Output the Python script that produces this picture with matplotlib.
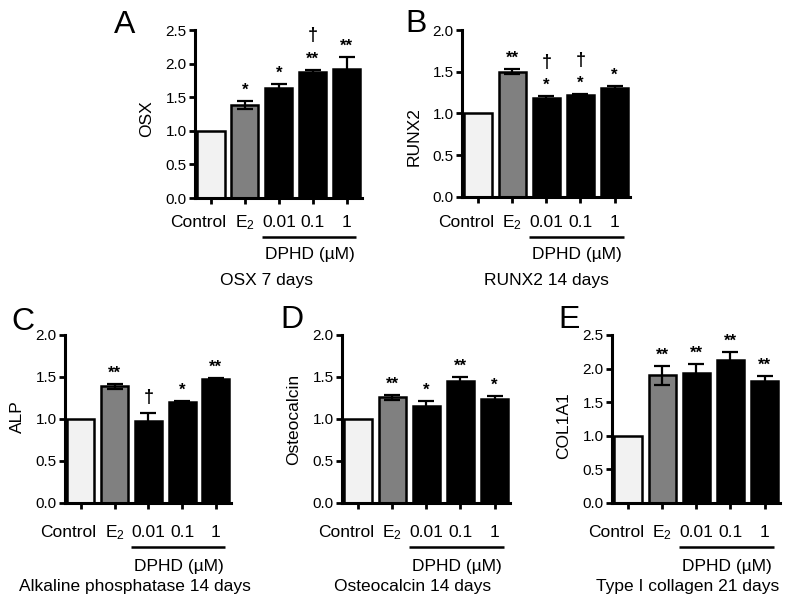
import numpy as np
import matplotlib
matplotlib.use("Agg")
import matplotlib.pyplot as plt
from matplotlib.transforms import blended_transform_factory

plt.rcParams['font.family'] = ['Liberation Sans', 'DejaVu Sans']
plt.rcParams['mathtext.default'] = 'regular'

groups = ['Control', 'E$_2$', '0.01', '0.1', '1']
bar_colors = ['#f2f2f2', '#808080', 'black', 'black', 'black']

# A - OSX 7 days
osx_mean = [1.0, 1.38, 1.64, 1.87, 1.92]
osx_err = [0, 0.06, 0.05, 0.04, 0.18]
osx_stars = ['', '*', '*', '**', '**']
osx_dagger = [False, False, False, True, False]

# B - RUNX2 14 days
runx2_mean = [1.0, 1.50, 1.18, 1.22, 1.30]
runx2_err = [0, 0.03, 0.03, 0.01, 0.03]
runx2_stars = ['', '**', '*', '*', '*']
runx2_dagger = [False, False, True, True, False]

# C - Alkaline phosphatase 14 days
alp_mean = [1.0, 1.39, 0.98, 1.20, 1.48]
alp_err = [0, 0.03, 0.09, 0.01, 0.01]
alp_stars = ['', '**', '', '*', '**']
alp_dagger = [False, False, True, False, False]

# D - Osteocalcin 14 days
ocn_mean = [1.0, 1.26, 1.16, 1.45, 1.24]
ocn_err = [0, 0.03, 0.05, 0.05, 0.03]
ocn_stars = ['', '**', '*', '**', '*']
ocn_dagger = [False, False, False, False, False]

# E - Type I collagen 21 days
col_mean = [1.0, 1.90, 1.94, 2.13, 1.81]
col_err = [0, 0.14, 0.13, 0.12, 0.08]
col_stars = ['', '**', '**', '**', '**']
col_dagger = [False, False, False, False, False]

W, H = 800, 605
fig = plt.figure(figsize=(W / 100, H / 100), dpi=100)


def px_axes(left, right, top, bottom):
    return fig.add_axes([left / W, 1 - bottom / H, (right - left) / W, (bottom - top) / H])


# letter, ylabel, caption, data, ymax, (l, r, t, b), letter xy, ylabel y, caption x, text rows
panels = [
    ('A', 'OSX', 'OSX 7 days', (osx_mean, osx_err, osx_stars, osx_dagger), 2.5,
     (195, 362, 30, 198), (125, 33), 119, 1.65, (227, 237, 255, 280)),
    ('B', 'RUNX2', 'RUNX2 14 days', (runx2_mean, runx2_err, runx2_stars, runx2_dagger), 2.0,
     (462, 630, 30, 197), (416, 32), 137, 2.0, (227, 237, 255, 280)),
    ('C', 'ALP', 'Alkaline phosphatase 14 days', (alp_mean, alp_err, alp_stars, alp_dagger), 2.0,
     (65, 231, 335, 503), (23, 330), 417, 1.6, (537, 547, 566, 587)),
    ('D', 'Osteocalcin', 'Osteocalcin 14 days', (ocn_mean, ocn_err, ocn_stars, ocn_dagger), 2.0,
     (342, 510, 335, 503), (292, 328), 419, 1.6, (537, 547, 566, 587)),
    ('E', 'COL1A1', 'Type I collagen 21 days', (col_mean, col_err, col_stars, col_dagger), 2.5,
     (612, 780, 335, 503), (569, 328), 426, 1.74, (537, 547, 566, 587)),
]

for letter, ylab, caption, data, ymax, box, lxy, ylab_y, cap_x, rows in panels:
    mean, err, stars, dagger = data
    ax = px_axes(*box)
    x = np.arange(len(groups))
    ax.bar(x, mean, width=0.8, color=bar_colors, edgecolor='black', linewidth=1.8, zorder=2)
    ax.errorbar(x[1:], mean[1:], yerr=err[1:], fmt='none', ecolor='black',
                elinewidth=1.6, capsize=5.5, capthick=1.6, zorder=3)
    for i in x:
        top = mean[i] + err[i]
        if stars[i]:
            ax.annotate(stars[i], xy=(i, top), xytext=(0, 4.5), textcoords='offset points',
                        ha='center', va='baseline', fontsize=12, fontweight='bold')
        if dagger[i]:
            off = 21 if stars[i] else 8
            ax.annotate('\u2020', xy=(i, top), xytext=(0, off), textcoords='offset points',
                        ha='center', va='baseline', fontsize=13, fontweight='bold')

    ax.set_xlim(-0.47, 4.45)
    ax.set_ylim(0, ymax)
    ax.set_yticks(np.arange(0, ymax + 0.01, 0.5))
    ax.set_yticklabels(['%.1f' % v for v in np.arange(0, ymax + 0.01, 0.5)])
    ax.set_xticks(x)
    ax.set_xticklabels([])
    for s in ['top', 'right']:
        ax.spines[s].set_visible(False)
    for s in ['left', 'bottom']:
        ax.spines[s].set_linewidth(2.2)
    ax.tick_params(axis='both', length=4, width=2, direction='out')
    ax.tick_params(axis='y', labelsize=11, pad=2)

    # y label
    l, r, t, b = box
    fig.text((l - 48) / W, 1 - ylab_y / H, ylab, rotation=90, ha='center', va='center', fontsize=12.5)

    # panel letter
    fig.text(lxy[0] / W, 1 - lxy[1] / H, letter, ha='center', va='baseline', fontsize=23)

    # group labels, DPHD bracket and caption
    tr = blended_transform_factory(ax.transData, fig.transFigure)
    lab_y, line_y, dphd_y, cap_y = rows
    for i, g in enumerate(groups):
        if i == 0:
            ax.text(0.46, 1 - lab_y / H, g, transform=tr, ha='right', va='baseline',
                    fontsize=12.5, clip_on=False)
        else:
            ax.text(i, 1 - lab_y / H, g, transform=tr, ha='center', va='baseline',
                    fontsize=12.5, clip_on=False)
    ax.plot([1.5, 4.27], [1 - line_y / H] * 2, transform=tr, color='black',
            linewidth=1.8, clip_on=False, solid_capstyle='butt')
    ax.text(2.9, 1 - dphd_y / H, 'DPHD (\u00b5M)', transform=tr, ha='center', va='center',
            fontsize=12.5, clip_on=False)
    ax.text(cap_x, 1 - cap_y / H, caption, transform=tr, ha='center', va='center',
            fontsize=12.5, clip_on=False)

plt.savefig('out.png', dpi=100)
